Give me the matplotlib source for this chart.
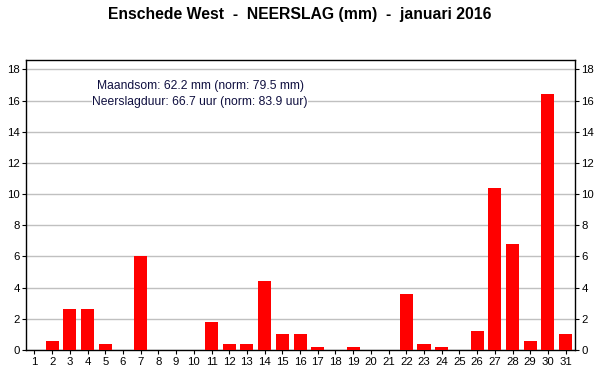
import matplotlib
matplotlib.use("Agg")
import matplotlib.pyplot as plt

days = list(range(1, 32))
rain = [0, 0.6, 2.6, 2.6, 0.4, 0, 6.0, 0, 0, 0, 1.8, 0.4, 0.4, 4.4, 1.0, 1.0,
        0.2, 0, 0.2, 0, 0, 3.6, 0.4, 0.2, 0, 1.2, 10.4, 6.8, 0.6, 16.4, 1.0]
yticks = list(range(0, 19, 2))
title = "Enschede West  -  NEERSLAG (mm)  -  januari 2016"
info = "Maandsom: 62.2 mm (norm: 79.5 mm)\nNeerslagduur: 66.7 uur (norm: 83.9 uur)"

plt.rcParams['font.family'] = ['Liberation Sans', 'DejaVu Sans']
fig = plt.figure(figsize=(6, 3.9), dpi=100)
ax = fig.add_axes([26/600, 1-350/390, 549/600, 290/390])
ax.bar(days, rain, width=0.74, color='#ff0000', zorder=3)
ax.set_xlim(0.52, 31.53)
ax.set_ylim(0, 18.6)
ax.set_xticks(days)
ax.set_yticks(yticks)
ax.yaxis.grid(True, color='#c0c0c0', linewidth=1, zorder=0)
ax.tick_params(axis='both', direction='out', labelsize=8.2, length=3, width=0.8, pad=2)
ax.tick_params(axis='y', right=True, labelright=True, pad=1.5)
for s in ax.spines.values():
    s.set_linewidth(1)
fig.text(0.5, 1-14/390, title, ha='center', va='center', fontsize=11.3, fontweight='bold')
ax.text(10.35, 16.4, info, ha='center', va='center', fontsize=8.7, color='#101040',
        linespacing=1.45, zorder=4,
        bbox=dict(facecolor='white', edgecolor='none', pad=0.3))
fig.savefig("out.png", dpi=100)
